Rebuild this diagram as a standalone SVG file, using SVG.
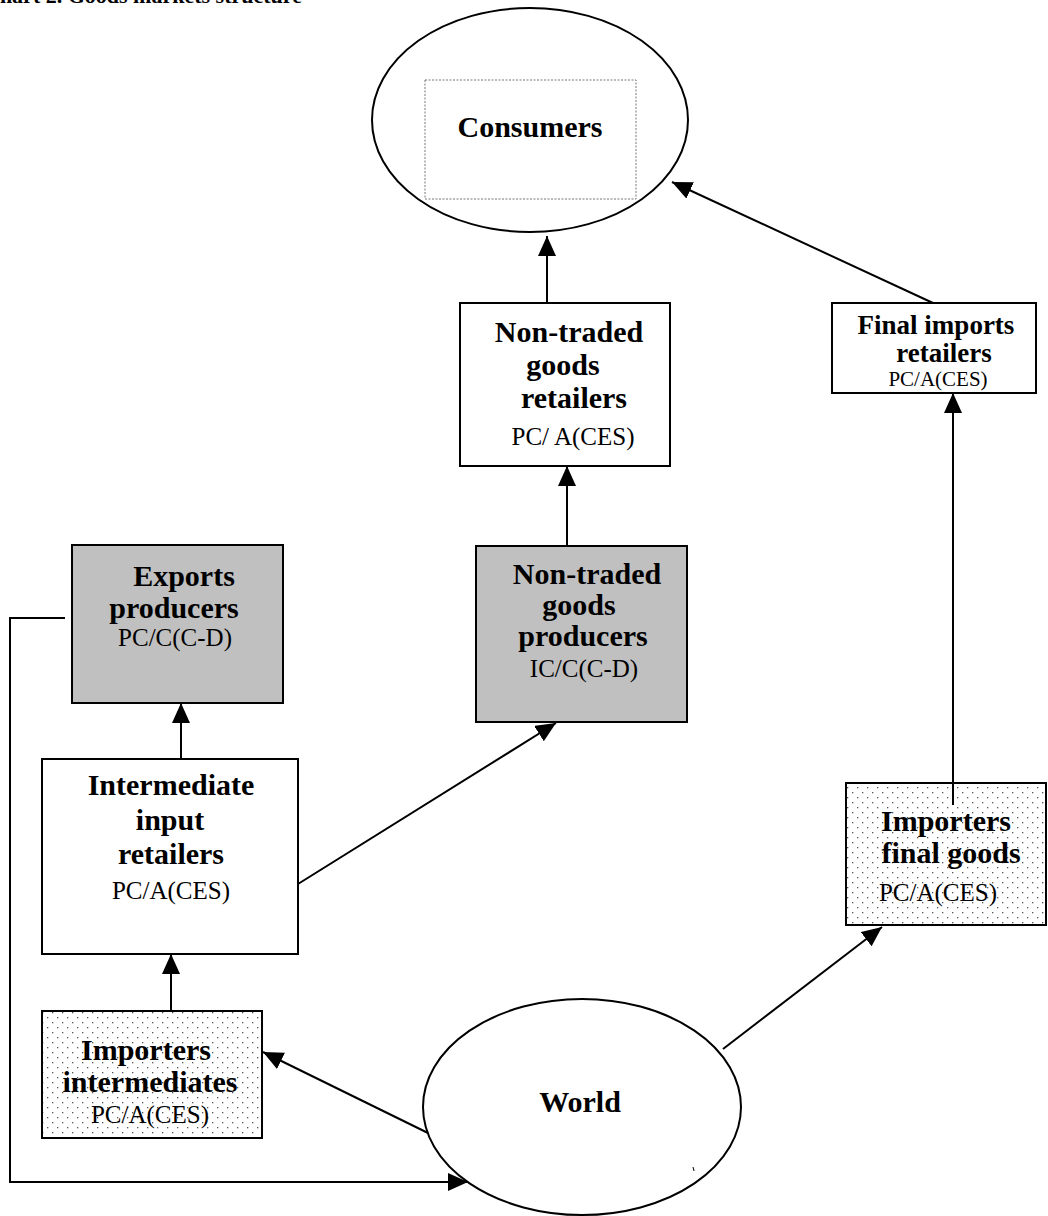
<svg xmlns="http://www.w3.org/2000/svg" width="1048" height="1216" viewBox="0 0 1048 1216">
<defs>
<marker id="ah" markerUnits="userSpaceOnUse" markerWidth="22" markerHeight="20" refX="20" refY="9" orient="auto">
<path d="M0,0 L20,9 L0,18 z" fill="#000"/>
</marker>
<pattern id="dots" width="10" height="10" patternUnits="userSpaceOnUse">
<rect width="10" height="10" fill="#fff"/>
<rect x="2" y="2" width="1.3" height="1.3" fill="#555"/>
<rect x="7" y="7" width="1.3" height="1.3" fill="#555"/>
</pattern>
</defs>
<style>
.box{stroke:#000;stroke-width:2;}
.w{fill:#fff;}
.g{fill:#c0c0c0;}
.d{fill:url(#dots);}
.b{font-family:"Liberation Serif","Times New Roman",serif;font-weight:bold;font-size:30px;fill:#000;text-anchor:middle;}
.r{font-family:"Liberation Serif","Times New Roman",serif;font-size:25px;fill:#000;text-anchor:middle;}
.c{fill:none;stroke:#000;stroke-width:2;}
.a{marker-end:url(#ah);}
</style>
<rect width="1048" height="1216" fill="#fff"/>
<text x="-16" y="3" style="font-family:'Liberation Serif',serif;font-weight:bold;font-size:22px;">Chart 2. Goods markets structure</text>

<g id="consumers">
<ellipse cx="530" cy="120" rx="158" ry="112" fill="#fff" stroke="#000" stroke-width="2"/>
<rect x="425" y="80" width="211" height="119" fill="none" stroke="#777" stroke-width="1" stroke-dasharray="2,1.5"/>
<text class="b" x="530" y="137">Consumers</text>
</g>

<g id="nontraded-retailers">
<rect class="box w" x="460" y="303" width="210" height="163"/>
<text class="b" x="569" y="342">Non-traded</text>
<text class="b" x="563" y="375">goods</text>
<text class="b" x="574" y="408">retailers</text>
<text class="r" x="573" y="445">PC/ A(CES)</text>
</g>

<g id="final-imports-retailers">
<rect class="box w" x="832" y="303" width="204" height="90"/>
<text class="b" x="936" y="334" style="font-size:27px">Final imports</text>
<text class="b" x="944" y="362" style="font-size:27px">retailers</text>
<text class="r" x="938" y="386" style="font-size:21px">PC/A(CES)</text>
</g>

<g id="exports-producers">
<rect class="box g" x="72" y="545" width="211" height="158"/>
<text class="b" x="184" y="586">Exports</text>
<text class="b" x="174" y="618">producers</text>
<text class="r" x="175" y="646">PC/C(C-D)</text>
</g>

<g id="nontraded-producers">
<rect class="box g" x="476" y="546" width="211" height="176"/>
<text class="b" x="587" y="584">Non-traded</text>
<text class="b" x="579" y="615">goods</text>
<text class="b" x="583" y="646">producers</text>
<text class="r" x="584" y="677">IC/C(C-D)</text>
</g>

<g id="intermediate-input-retailers">
<rect class="box w" x="42" y="759" width="256" height="195"/>
<text class="b" x="171" y="795">Intermediate</text>
<text class="b" x="170" y="830">input</text>
<text class="b" x="171" y="864">retailers</text>
<text class="r" x="171" y="899">PC/A(CES)</text>
</g>

<g id="importers-final-goods">
<rect class="box d" x="846" y="783" width="200" height="142"/>
<text class="b" x="946" y="831">Importers</text>
<text class="b" x="951" y="863">final goods</text>
<text class="r" x="938" y="901">PC/A(CES)</text>
</g>

<g id="importers-intermediates">
<rect class="box d" x="42" y="1011" width="220" height="127"/>
<text class="b" x="146" y="1060">Importers</text>
<text class="b" x="150" y="1092">intermediates</text>
<text class="r" x="150" y="1123">PC/A(CES)</text>
</g>

<g id="world">
<ellipse cx="582" cy="1107" rx="159" ry="108" fill="#fff" stroke="#000" stroke-width="2"/>
<text class="b" x="580" y="1112">World</text>
<path d="M693,1167 L694,1171" stroke="#000" stroke-width="1"/>
</g>

<g id="connectors">
<path class="c a" d="M547,303 L547,236"/>
<path class="c a" d="M933,303 L672,182"/>
<path class="c a" d="M567,545 L567,466"/>
<path class="c a" d="M181,759 L181,703"/>
<path class="c a" d="M298,884 L556,723"/>
<path class="c a" d="M953,805 L953,393"/>
<path class="c a" d="M723,1049 L882,927"/>
<path class="c a" d="M171,1011 L171,954"/>
<path class="c a" d="M428,1133 L263,1052"/>
<path class="c a" d="M65,618 L10,618 L10,1182 L468,1182"/>
</g>
</svg>
